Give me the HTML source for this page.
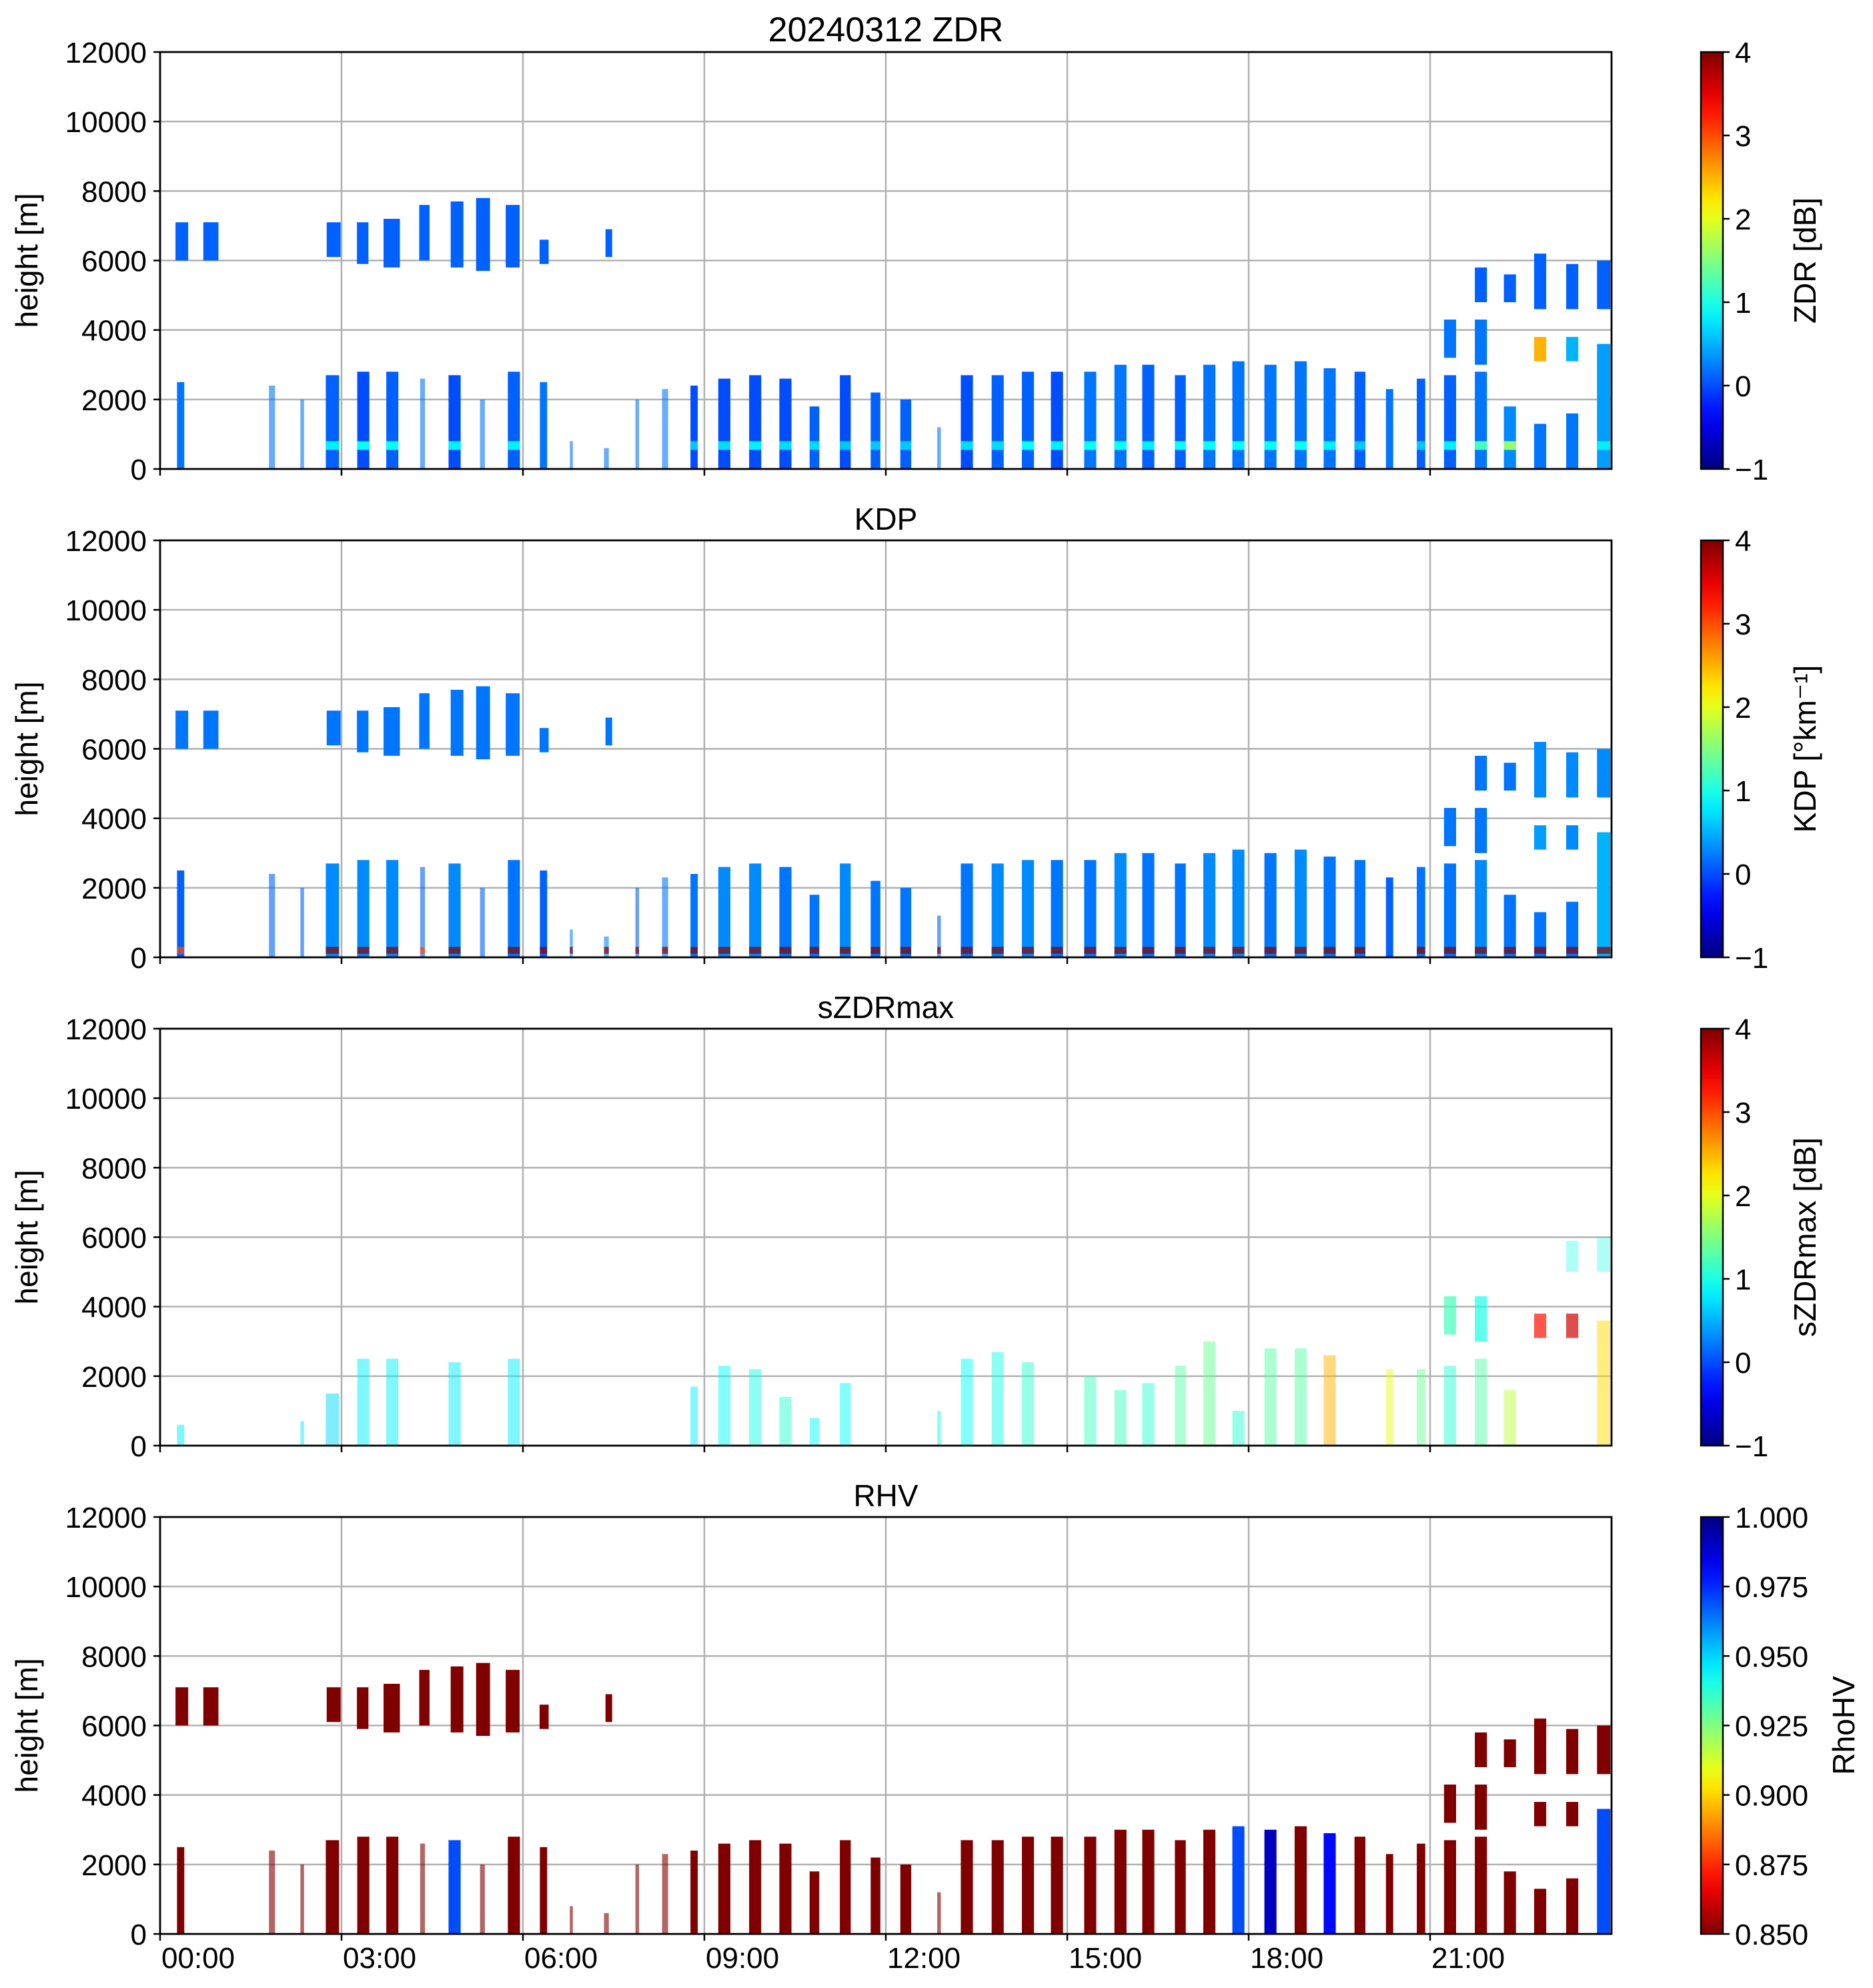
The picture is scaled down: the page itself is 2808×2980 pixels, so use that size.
<!DOCTYPE html>
<html><head><meta charset="utf-8"><style>
html,body{margin:0;padding:0;background:#fff;}
svg{display:block;font-family:"Liberation Sans","DejaVu Sans",sans-serif;}
</style></head><body>
<svg id="fig" width="2808" height="2980" viewBox="0 0 2808 2980" xmlns="http://www.w3.org/2000/svg"></svg>
<script>
// ---- data (hours, meters, values) ----
const colT   = [0.34,1.85,2.35,2.85,3.36,3.84,4.34,4.87,5.33,5.85,6.34,6.80,7.38,7.89,8.35,8.83,9.33,9.84,10.34,10.82,11.33,11.83,12.33,12.88,13.34,13.85,14.35,14.83,15.38,15.88,16.34,16.87,17.35,17.83,18.36,18.86,19.34,19.84,20.33,20.85,21.33,21.84,22.32,22.82,23.35,23.87];
const colW   = [0.12,0.1,0.06,0.22,0.2,0.2,0.08,0.2,0.08,0.2,0.12,0.05,0.08,0.06,0.1,0.12,0.2,0.2,0.2,0.16,0.18,0.16,0.18,0.06,0.2,0.2,0.2,0.2,0.2,0.2,0.2,0.18,0.2,0.2,0.2,0.2,0.2,0.18,0.12,0.14,0.2,0.2,0.2,0.2,0.2,0.22];
const colTop = [2500,2400,2000,2700,2800,2800,2600,2700,2000,2800,2500,800,600,2000,2300,2400,2600,2700,2600,1800,2700,2200,2000,1200,2700,2700,2800,2800,2800,3000,3000,2700,3000,3100,3000,3100,2900,2800,2300,2600,2700,2800,1800,1300,1600,3600];
const zdrVal = [0.2,0.2,0.2,0.1,0.0,0.1,0.2,0.0,0.2,0.1,0.2,0.2,0.2,0.2,0.2,0.0,0.0,0.0,0.0,0.1,0.0,0.1,0.1,0.2,0.0,0.1,0.1,0.0,0.2,0.2,0.1,0.1,0.2,0.2,0.2,0.2,0.2,0.1,0.2,0.1,0.1,0.2,0.3,0.2,0.2,0.4];
const zdrBand= [0,0,0,0.8,0.9,0.9,0,0.8,0,0.8,0,0,0,0,0,0.6,0.7,0.8,0.7,0.7,0.6,0.6,0.6,0,0.7,0.7,0.9,0.8,0.9,0.9,0.8,0.9,0.9,0.9,0.9,0.9,0.8,0.6,0,0.6,0.8,1.2,1.6,0,0,0.8];
const kdpVal = [0.1,0.1,0.1,0.3,0.3,0.3,0.1,0.3,0.1,0.2,0.1,0.3,0.3,0.1,0.2,0.2,0.3,0.3,0.2,0.2,0.3,0.2,0.2,0.1,0.2,0.3,0.3,0.2,0.2,0.3,0.2,0.2,0.3,0.3,0.2,0.3,0.2,0.2,0.1,0.2,0.2,0.3,0.2,0.2,0.2,0.5];
const kdpLow = [3,0,0,4,4,4,3,4,0,4,4,4,4,4,4,4,4,4,4,4,4,4,4,4,4,4,4,4,4,4,4,4,4,4,4,4,4,4,0,4,4,4,4,4,4,4];
const szTop  = [600,0,700,1500,2500,2500,0,2400,0,2500,0,0,0,0,0,1700,2300,2200,1400,800,1800,0,0,1000,2500,2700,2400,0,2000,1600,1800,2300,3000,1000,2800,2800,2600,0,2200,2200,2300,2500,1600,0,0,3600];
const szVal  = [0.8,0,0.8,0.7,0.8,0.8,0,0.8,0,0.8,0,0,0,0,0,0.8,0.9,1.0,1.1,0.9,0.9,0,0,1.0,0.9,1.0,1.1,0,1.2,1.2,1.1,1.3,1.4,1.1,1.3,1.3,2.5,0,2.0,1.4,1.1,1.3,1.8,0,0,2.3];
const rhvVal = [0.85,0.85,0.85,0.85,0.85,0.85,0.85,0.97,0.85,0.85,0.85,0.85,0.85,0.85,0.85,0.85,0.85,0.85,0.85,0.85,0.85,0.85,0.85,0.85,0.85,0.85,0.85,0.85,0.85,0.85,0.85,0.85,0.85,0.97,0.99,0.85,0.98,0.85,0.85,0.85,0.85,0.85,0.85,0.85,0.85,0.97];
// upper cloud layers
const upT    = [0.36,0.84,2.87,3.35,3.83,4.37,4.91,5.34,5.83,6.35,7.42,21.84,22.32,22.82,23.35,23.87];
const upW    = [0.21,0.25,0.23,0.19,0.27,0.17,0.21,0.23,0.23,0.15,0.11,0.2,0.2,0.2,0.2,0.22];
const upBase = [6000,6000,6100,5900,5800,6000,5800,5700,5800,5900,6100,4800,4800,4600,4600,4600];
const upTop  = [7100,7100,7100,7100,7200,7600,7700,7800,7600,6600,6900,5800,5600,6200,5900,6000];
const upKdp  = [0.2,0.2,0.2,0.2,0.2,0.2,0.2,0.2,0.2,0.2,0.2,0.2,0.2,0.3,0.3,0.3];
const upSz   = [0,0,0,0,0,0,0,0,0,0,0,0,0,0,1.0,1.0];
// mid layer (late day)
const midT    = [21.33,21.84,22.82,23.35];
const midBase = [3200,3000,3100,3100];
const midTop  = [4300,4300,3800,3800];
const midZdr  = [0.2,0.2,2.5,0.5];
const midKdp  = [0.2,0.2,0.4,0.3];
const midSz   = [1.2,1.0,3.3,3.6];
const midRhv  = [0.85,0.85,0.85,0.85];
const yTicks = [0,2000,4000,6000,8000,10000,12000];
const xTicks = [0,3,6,9,12,15,18,21];
const xTickLabels = ["00:00","03:00","06:00","09:00","12:00","15:00","18:00","21:00"];
const panelTitles = ["20240312 ZDR","KDP","sZDRmax","RHV"];
const cbLabels = ["ZDR [dB]","KDP [°km⁻¹]","sZDRmax [dB]","RhoHV"];
const cbTicks4 = [-1,0,1,2,3,4];
const cbTicksR = [0.850,0.875,0.900,0.925,0.950,0.975,1.000];

// ---- layout ----
const NS="http://www.w3.org/2000/svg";
const svg=document.getElementById('fig');
const X0=240,X1=2416,PH=625,tops=[78,810,1542,2274];
const CBX=2550,CBW=33;
const xs=h=>X0+(X1-X0)*h/24;
function mk(tag,at,parent){const e=document.createElementNS(NS,tag);for(const k in at)e.setAttribute(k,at[k]);(parent||svg).appendChild(e);return e;}
function jet(v){const c=x=>Math.round(255*Math.max(0,Math.min(1,x)));return `rgb(${c(1.5-Math.abs(4*v-3))},${c(1.5-Math.abs(4*v-2))},${c(1.5-Math.abs(4*v-1))})`;}
const norm4=v=>(v+1)/5;
const jetR=v=>jet(1-(v-0.85)/0.15);

const defs=mk('defs',{});
function grad(id,rev){const g=mk('linearGradient',{id:id,x1:0,y1:1,x2:0,y2:0},defs);for(let i=0;i<=20;i++){mk('stop',{offset:(i/20),'stop-color':jet(rev?1-i/20:i/20)},g);}}
grad('jetg',false);grad('jetr',true);

for(let p=0;p<4;p++){
  const top=tops[p],ys=h=>top+PH*(1-h/12000);
  const g=mk('g',{});
  
  
  for(const t of xTicks){ if(t===0)continue; mk('line',{x1:xs(t),x2:xs(t),y1:top,y2:top+PH,stroke:'#b0b0b0','stroke-width':2.5},g);}
  for(const t of yTicks){ if(t===0||t===12000)continue; mk('line',{x1:X0,x2:X1,y1:ys(t),y2:ys(t),stroke:'#b0b0b0','stroke-width':2.5},g);}
  const data=mk('g',{},g);
  
  
  const rect=(t,w,h0,h1,col,op)=>{const r=mk('rect',{x:xs(t-w/2),y:ys(h1),width:Math.max(2,xs(w)-X0),height:Math.max(1,ys(h0)-ys(h1)),fill:col,'fill-opacity':op||1},data);return r;};
  for(let i=0;i<colT.length;i++){
    const t=colT[i],w=colW[i],tp=colTop[i];
    const sparse=w<0.11?0.6:1;
    if(p===0){rect(t,w,0,tp,jet(norm4(zdrVal[i])),sparse); if(zdrBand[i]>0)rect(t,w,550,800,jet(norm4(zdrBand[i])),sparse);}
    if(p===1){rect(t,w,0,tp,jet(norm4(kdpVal[i])),sparse); if(kdpLow[i]>0)rect(t,w,100,300,jet(norm4(kdpLow[i])),0.7);}
    if(p===2){if(szTop[i]>0)rect(t,w,0,szTop[i],jet(norm4(szVal[i])),0.5);}
    if(p===3){rect(t,w,0,tp,jetR(rhvVal[i]),sparse);}
  }
  for(let i=0;i<upT.length;i++){
    if(p===0)rect(upT[i],upW[i],upBase[i],upTop[i],jet(norm4(0.1)));
    if(p===1)rect(upT[i],upW[i],upBase[i],upTop[i],jet(norm4(upKdp[i])));
    if(p===2&&upSz[i]>0)rect(upT[i],upW[i],upBase[i]+400,upTop[i],jet(norm4(upSz[i])),0.35);
    if(p===3)rect(upT[i],upW[i],upBase[i],upTop[i],jetR(0.85));
  }
  for(let i=0;i<midT.length;i++){
    const v=[midZdr,midKdp,midSz,midRhv][p][i];
    rect(midT[i],0.2,midBase[i],midTop[i],p===3?jetR(v):jet(norm4(v)),p===2?0.7:1);
  }
  mk('rect',{x:X0,y:top,width:X1-X0,height:PH,fill:'none',stroke:'#000','stroke-width':2.8},g);
  for(const t of yTicks){mk('line',{x1:X0-10,x2:X0,y1:ys(t),y2:ys(t),stroke:'#000','stroke-width':2.5},g);
    const tx=mk('text',{x:X0-20,y:ys(t)+16,'text-anchor':'end','font-size':44},g);tx.textContent=t;
    }
  for(const t of xTicks){mk('line',{x1:xs(t),x2:xs(t),y1:top+PH,y2:top+PH+10,stroke:'#000','stroke-width':2.5},g);}
  const yl=mk('text',{x:0,y:0,transform:`translate(56,${top+PH/2}) rotate(-90)`,'text-anchor':'middle','font-size':46},g);yl.textContent='height [m]';
  
  const tt=mk('text',{x:(X0+X1)/2,y:top-16,'text-anchor':'middle','font-size':p===0?52:46},g);tt.textContent=panelTitles[p];
  
  const cb=mk('g',{});
  
  
  mk('rect',{x:CBX,y:top,width:CBW,height:PH,fill:p===3?'url(#jetr)':'url(#jetg)',stroke:'#000','stroke-width':2.5},cb);
  const ticks=p===3?cbTicksR:cbTicks4;
  for(const v of ticks){
    const f=p===3?(v-0.85)/0.15:norm4(v);const y=top+PH*(1-f);
    mk('line',{x1:CBX+CBW,x2:CBX+CBW+10,y1:y,y2:y,stroke:'#000','stroke-width':2.5},cb);
    const lt=mk('text',{x:CBX+CBW+18,y:y+16,'font-size':44},cb);lt.textContent=p===3?v.toFixed(3):(v<0?'\u2212'+(-v):v);
    
  }
  const lx=p===3?2780:2722;
  const cl=mk('text',{x:0,y:0,transform:`translate(${lx},${top+PH/2}) rotate(-90)`,'text-anchor':'middle','font-size':46},cb);cl.textContent=cbLabels[p];
  
  if(p===3){
    for(let i=0;i<xTicks.length;i++){const xl=mk('text',{x:xs(xTicks[i])+2,y:2950,'font-size':44},g);xl.textContent=xTickLabels[i];
      }
  }
}
</script>
</body></html>
